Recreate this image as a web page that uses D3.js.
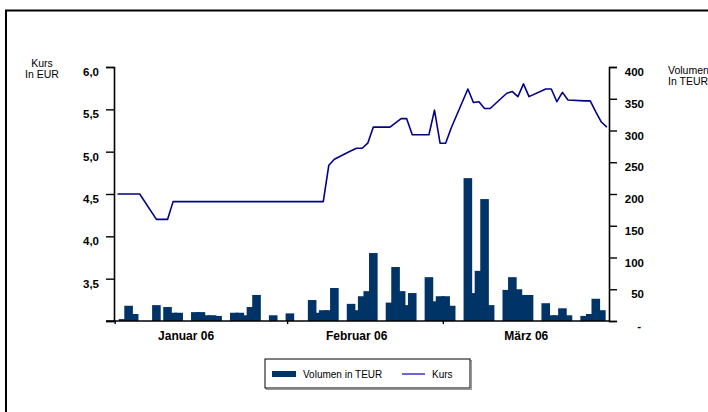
<!DOCTYPE html>
<html>
<head>
<meta charset="utf-8">
<script src="https://cdn.jsdelivr.net/npm/d3@7"></script>
<style>
  body { margin: 0; background: #fff; }
  svg { display: block; }
  text { font-family: "Liberation Sans", Arial, sans-serif; }
</style>
</head>
<body>
<div id="chart"></div>
<script>
// Trading days Jan - Mar 2006, one row per week
const tradeDays = [
  "2006-01-02", "2006-01-03", "2006-01-04", "2006-01-05", "2006-01-06",
  "2006-01-09", "2006-01-10", "2006-01-11", "2006-01-12", "2006-01-13",
  "2006-01-16", "2006-01-17", "2006-01-18", "2006-01-19", "2006-01-20",
  "2006-01-23", "2006-01-24", "2006-01-25", "2006-01-26", "2006-01-27",
  "2006-01-30", "2006-01-31", "2006-02-01", "2006-02-02", "2006-02-03",
  "2006-02-06", "2006-02-07", "2006-02-08", "2006-02-09", "2006-02-10",
  "2006-02-13", "2006-02-14", "2006-02-15", "2006-02-16", "2006-02-17",
  "2006-02-20", "2006-02-21", "2006-02-22", "2006-02-23", "2006-02-24",
  "2006-02-27", "2006-02-28", "2006-03-01", "2006-03-02", "2006-03-03",
  "2006-03-06", "2006-03-07", "2006-03-08", "2006-03-09", "2006-03-10",
  "2006-03-13", "2006-03-14", "2006-03-15", "2006-03-16", "2006-03-17",
  "2006-03-20", "2006-03-21", "2006-03-22", "2006-03-23", "2006-03-24",
  "2006-03-27", "2006-03-28", "2006-03-29", "2006-03-30", "2006-03-31"
];

// Volumen in TEUR (right axis)
const volume = [
  0, 3, 24, 11, 0,
  25, 0, 22, 13, 13,
  14, 14, 9, 9, 8,
  13, 13, 9, 22, 41,
  9, 0, 0, 12, 0,
  33, 13, 17, 17, 52,
  27, 17, 39, 47, 107,
  29, 85, 47, 25, 44,
  69, 31, 39, 39, 24,
  225, 44, 79, 192, 25,
  49, 69, 50, 41, 41,
  28, 9, 9, 20, 9,
  8, 11, 35, 17, 0
];

// Kurs in EUR (left axis)
const kurs = [
  4.50, 4.50, 4.50, 4.50, 4.50,
  4.20, 4.20, 4.20, 4.41, 4.41,
  4.41, 4.41, 4.41, 4.41, 4.41,
  4.41, 4.41, 4.41, 4.41, 4.41,
  4.41, 4.41, 4.41, 4.41, 4.41,
  4.41, 4.41, 4.41, 4.84, 4.91,
  5.01, 5.04, 5.04, 5.10, 5.29,
  5.29, 5.34, 5.39, 5.39, 5.20,
  5.20, 5.49, 5.10, 5.10, 5.28,
  5.74, 5.58, 5.59, 5.51, 5.51,
  5.69, 5.71, 5.65, 5.80, 5.65,
  5.74, 5.74, 5.59, 5.70, 5.61,
  5.60, 5.60, 5.47, 5.35, 5.29
];

const kursTicks = [3.0, 3.5, 4.0, 4.5, 5.0, 5.5, 6.0];
const volTicks = [0, 50, 100, 150, 200, 250, 300, 350, 400];
const monthLabels = ["Januar 06", "Februar 06", "März 06"];
const monthLabelDays = ["2006-01-14 08", "2006-02-14 00", "2006-03-16 12"];
const monthTickDays = ["2006-01-01 12", "2006-02-01 12", "2006-03-01 12"];

const width = 708, height = 412;
const plotLeft = 114, plotRight = 609, plotTop = 67, plotBottom = 321;

const parseDay = d3.timeParse("%Y-%m-%d");
const parseHour = d3.timeParse("%Y-%m-%d %H");
const days = tradeDays.map(parseDay);

const svg = d3.select("#chart").append("svg")
    .attr("width", width)
    .attr("height", height);

// outer frame (runs off the right and bottom of the picture)
svg.append("rect")
    .attr("x", 6).attr("y", 10.5)
    .attr("width", 800).attr("height", 500)
    .attr("fill", "none")
    .attr("stroke", "#000")
    .attr("stroke-width", 2);

const x = d3.scaleTime()
    .domain([parseHour("2006-01-01 09"), parseHour("2006-03-31 09")])
    .range([plotLeft, plotRight]);
const yKurs = d3.scaleLinear().domain([3, 6]).range([plotBottom, plotTop]);
const yVol = d3.scaleLinear().domain([0, 400]).range([plotBottom, plotTop]);

const barW = 8.6;

// volume bars, later days drawn over earlier ones
svg.append("g")
    .selectAll("rect")
    .data(days.map((d, i) => [d, volume[i]]).filter(d => d[1] > 0))
    .join("rect")
    .attr("x", d => x(d[0]) - barW / 2)
    .attr("y", d => yVol(d[1]))
    .attr("width", barW)
    .attr("height", d => yVol(0) - yVol(d[1]))
    .attr("fill", "#003366");

// price line
const line = d3.line()
    .x(d => x(d[0]))
    .y(d => yKurs(d[1]));
svg.append("path")
    .attr("d", line(days.map((d, i) => [d, kurs[i]])))
    .attr("fill", "none")
    .attr("stroke", "#000088")
    .attr("stroke-width", 1.6)
    .attr("stroke-linejoin", "round");

// left axis
const axisL = svg.append("g")
    .attr("transform", `translate(${plotLeft},0)`)
    .call(d3.axisLeft(yKurs).tickValues(kursTicks).tickSize(8).tickPadding(7)
        .tickFormat(d => d === 3 ? "" : d3.format(".1f")(d).replace(".", ",")));

// right axis
const axisR = svg.append("g")
    .attr("transform", `translate(${plotRight},0)`)
    .call(d3.axisRight(yVol).tickValues(volTicks).tickSize(8).tickPadding(6)
        .tickFormat(d => d === 0 ? "-" : d));
axisR.selectAll(".tick text")
    .attr("text-anchor", "end")
    .attr("x", 35);
axisR.selectAll(".tick")
    .filter(d => d === 0)
    .select("text")
    .attr("x", 32);

// bottom axis
const axisB = svg.append("g")
    .attr("transform", `translate(0,${plotBottom})`)
    .call(d3.axisBottom(x).tickValues(monthTickDays.map(parseHour)).tickSize(3).tickFormat(""));

[axisL, axisR, axisB].forEach(a => {
    a.select(".domain").attr("stroke", "#000").attr("stroke-width", 1.6);
    a.selectAll(".tick line").attr("stroke", "#000").attr("stroke-width", 1.4);
    a.selectAll(".tick text")
        .attr("font-family", "Liberation Sans, Arial, sans-serif")
        .attr("font-size", 11.5)
        .attr("font-weight", "bold")
        .attr("fill", "#000")
        .attr("dy", "0.75em");
});
axisB.select(".domain").attr("d", `M${plotLeft - 8},0H${plotRight}`);

// month labels
svg.append("g")
    .selectAll("text")
    .data(monthLabels)
    .join("text")
    .attr("x", (d, i) => x(parseHour(monthLabelDays[i])))
    .attr("y", 340)
    .attr("text-anchor", "middle")
    .attr("font-size", 12)
    .attr("font-weight", "bold")
    .text(d => d);

// axis titles
const titleL = svg.append("text")
    .attr("text-anchor", "middle")
    .attr("font-size", 10.5);
titleL.append("tspan").attr("x", 42).attr("y", 67).text("Kurs");
titleL.append("tspan").attr("x", 42).attr("y", 78).text("In EUR");

const titleR = svg.append("text")
    .attr("font-size", 10.5);
titleR.append("tspan").attr("x", 668).attr("y", 74).text("Volumen");
titleR.append("tspan").attr("x", 668).attr("y", 85).text("In TEUR");

// legend
const lg = svg.append("g").attr("transform", "translate(265,359)");
lg.append("rect")
    .attr("x", 1.5).attr("y", 1.5)
    .attr("width", 205).attr("height", 29)
    .attr("fill", "none")
    .attr("stroke", "#999")
    .attr("stroke-width", 1);
lg.append("rect")
    .attr("width", 205).attr("height", 29)
    .attr("fill", "#fff")
    .attr("stroke", "#000")
    .attr("stroke-width", 1);
lg.append("rect")
    .attr("x", 7).attr("y", 12)
    .attr("width", 24).attr("height", 6)
    .attr("fill", "#003366");
lg.append("text")
    .attr("x", 38).attr("y", 18.5)
    .attr("font-size", 10)
    .text("Volumen in TEUR");
lg.append("line")
    .attr("x1", 137).attr("x2", 160)
    .attr("y1", 15).attr("y2", 15)
    .attr("stroke", "#0000cc")
    .attr("stroke-width", 1.2);
lg.append("text")
    .attr("x", 167).attr("y", 18.5)
    .attr("font-size", 10)
    .text("Kurs");
</script>
</body>
</html>
